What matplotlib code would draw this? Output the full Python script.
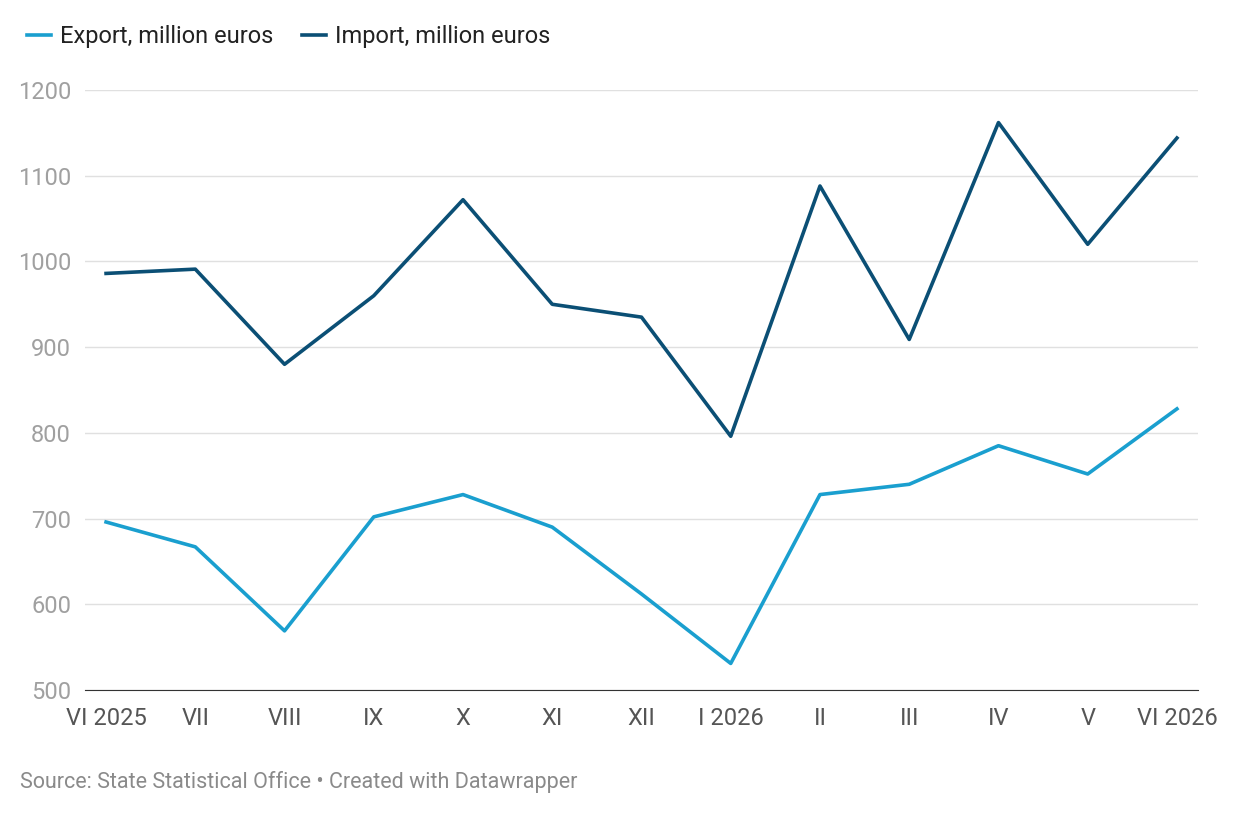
import matplotlib.pyplot as plt

months = ["VI 2025", "VII", "VIII", "IX", "X", "XI", "XII", "I 2026",
          "II", "III", "IV", "V", "VI 2026"]
export = [696, 667, 569, 702, 728, 690, 612, 531, 728, 740, 785, 752, 828]
imports = [986, 991, 880, 960, 1072, 950, 935, 796, 1088, 909, 1162, 1020, 1144]

plt.rcParams["font.family"] = ["Roboto", "DejaVu Sans"]

fig = plt.figure(figsize=(12.4, 8.16), dpi=100)
ax = fig.add_axes([85 / 1240, 1 - 690 / 816, 1113 / 1240, 600 / 816])

x = range(len(months))
ax.plot(x, export, color="#1a9fcf", lw=2.6, label="Export, million euros")
ax.plot(x, imports, color="#0b4f75", lw=2.6, label="Import, million euros")

ax.set_xlim(-0.236, 12.236)
ax.set_ylim(500, 1200)
ax.set_yticks(range(500, 1201, 100))
ax.set_xticks(list(x))
ax.set_xticklabels(months)
ax.grid(axis="y", color="#e0e0e0", lw=1)
ax.set_axisbelow(True)
for s in ["top", "right", "left"]:
    ax.spines[s].set_visible(False)
ax.spines["bottom"].set_color("#333333")
ax.tick_params(axis="y", length=0, pad=10, labelsize=17, labelcolor="#a0a0a0")
ax.tick_params(axis="x", length=0, pad=12, labelsize=17, labelcolor="#555555")

leg = ax.legend(loc="upper left", bbox_to_anchor=(-67 / 1113, 1 + 74 / 600), ncol=2,
                frameon=False, fontsize=17, handlelength=1.0, handletextpad=0.4,
                columnspacing=1.2, borderaxespad=0)
for t in leg.get_texts():
    t.set_color("#222222")

fig.text(20 / 1240, 1 - 782 / 816, "Source: State Statistical Office • Created with Datawrapper",
         fontsize=15.5, color="#8a8a8a", va="center")

fig.savefig("out.png", dpi=100)
